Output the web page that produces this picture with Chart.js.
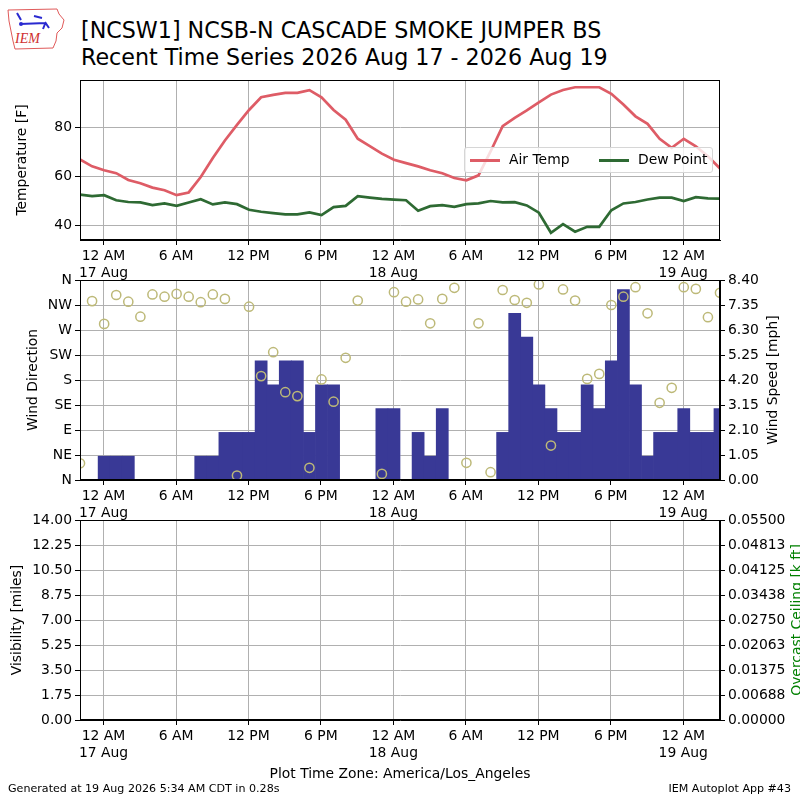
<!DOCTYPE html>
<html>
<head>
<meta charset="utf-8">
<script src="https://cdn.jsdelivr.net/npm/chart.js@4.4.1/dist/chart.umd.min.js"></script>
<style>
  body { margin:0; width:800px; height:800px; overflow:hidden; background:#fff; position:relative;
         font-family:'DejaVu Sans', sans-serif; color:#000; }
  canvas { position:absolute; left:0; }
  .txt { position:absolute; white-space:nowrap; line-height:1; }
  .rot { position:absolute; white-space:nowrap; line-height:1; font-size:13.9px;
         transform:translate(-50%,-50%) rotate(-90deg); }
  #legend { position:absolute; left:464px; top:147px; width:247px; height:24px;
            border:1px solid #d6d6d6; border-radius:3px; background:rgba(255,255,255,0.8); font-size:13.9px; }
  #legend span.ln { position:absolute; top:11px; width:30px; height:3px; }
  #legend span.lb { position:absolute; top:5px; line-height:1; }
</style>
</head>
<body>

<svg style="position:absolute;left:0;top:0" width="70" height="55">
  <path d="M8,10 L57,9 L59,14 L64,20 L62,28 L57,33 L56,41 L53,48 L15,49 L13,41 L11,31 L9,21 Z"
        fill="none" stroke="#e05a5a" stroke-width="1"/>
  <path d="M17,13 L21,20 M20,24 L46,23 M34,16 L42,18 M45,22 L49,28 M45,24 L43,29" stroke="#2a2ad0" stroke-width="2" fill="none"/>
  <circle cx="21" cy="24" r="2" fill="#2a2ad0"/>
  <text x="15" y="43" font-family="Liberation Serif, serif" font-style="italic" font-size="14" fill="#d03030">IEM</text>
</svg>

<div class="txt" style="left:81px;top:18.5px;font-size:22.2px">[NCSW1] NCSB-N CASCADE SMOKE JUMPER BS</div>
<div class="txt" style="left:81px;top:45.5px;font-size:22.2px">Recent Time Series 2026 Aug 17 - 2026 Aug 19</div>

<canvas id="c1" width="800" height="290" style="top:0"></canvas>
<canvas id="c2" width="800" height="260" style="top:260px"></canvas>
<canvas id="c3" width="800" height="300" style="top:500px"></canvas>

<div id="legend"></div>
<div class="rot" style="left:773px;top:380px">Wind Speed [mph]</div>
<div class="rot" style="left:797px;top:620px;color:#008000">Overcast Ceiling [k ft]</div>

<div class="txt" style="left:8px;top:783px;font-size:11.1px">Generated at 19 Aug 2026 5:34 AM CDT in 0.28s</div>
<div class="txt" style="right:9px;top:783px;font-size:11.1px">IEM Autoplot App #43</div>

<script>
// observation times (local, America/Los_Angeles)
const obsTimes = [
  "08-16 22:03","08-16 23:03",
  "08-17 00:03","08-17 01:03","08-17 02:03","08-17 03:03","08-17 04:03","08-17 05:03",
  "08-17 06:03","08-17 07:03","08-17 08:03","08-17 09:03","08-17 10:03","08-17 11:03",
  "08-17 12:03","08-17 13:03","08-17 14:03","08-17 15:03","08-17 16:03","08-17 17:03",
  "08-17 18:03","08-17 19:03","08-17 20:03","08-17 21:03","08-17 22:03","08-17 23:03",
  "08-18 00:03","08-18 01:03","08-18 02:03","08-18 03:03","08-18 04:03","08-18 05:03",
  "08-18 06:03","08-18 07:03","08-18 08:03","08-18 09:03","08-18 10:03","08-18 11:03",
  "08-18 12:03","08-18 13:03","08-18 14:03","08-18 15:03","08-18 16:03","08-18 17:03",
  "08-18 18:03","08-18 19:03","08-18 20:03","08-18 21:03","08-18 22:03","08-18 23:03",
  "08-19 00:03","08-19 01:03","08-19 02:03","08-19 03:03"
];

const airTemp = [67, 64.2,
  62.6, 61.4, 58.6, 57.3, 55.5, 54.4, 52.4, 53.5, 59.8, 67.6, 74.8, 81.2,
  87.3, 92.5, 93.5, 94.3, 94.3, 95.4, 92.5, 87.3, 83.3, 75.5, 72.5, 69.4,
  66.9, 65.5, 64.2, 62.6, 61.4, 59.4, 58.5, 60.5, 70.3, 80.7, 84.1, 87.1,
  90.4, 93.6, 95.5, 96.6, 96.6, 96.6, 93.9, 89.5, 84.7, 81.6, 75.5, 71.8,
  75.5, 72.4, 68.3, 63.3];

const dewPoint = [52.6, 52.0,
  52.4, 50.3, 49.6, 49.4, 48.3, 49.0, 48.0, 49.4, 50.7, 48.6, 49.4, 48.7,
  46.4, 45.6, 45.0, 44.5, 44.5, 45.3, 44.2, 47.5, 48.0, 52.0, 51.4, 50.9,
  50.6, 50.3, 46.0, 47.9, 48.3, 47.6, 48.7, 49.0, 50.0, 49.4, 49.5, 48.2,
  45.2, 37.0, 40.5, 37.4, 39.4, 39.4, 46.2, 49.0, 49.6, 50.6, 51.4, 51.4,
  50.0, 51.6, 51.1, 51.0];

const windDir = [30, 322,
  281, 333, 321, 294, 334, 330, 335, 330, 320, 334, 326, 8,
  312, 187, 230, 158, 151, 22, 181, 141, 220, 323, null, 11,
  338, 321, 325, 282, 326, 346, 31, 282, 14, 342, 324, 319,
  352, 62, 343, 323, 182, 191, 315, 330, 347, 300, 139, 166,
  347, 344, 293, 337];

const windSpeed = [0, 0,
  1, 1, 1, 0, 0, 0, 0, 0, 1, 1, 2, 2,
  2, 5, 4, 5, 5, 2, 4, 4, 0, 0, 0, 3,
  3, 0, 2, 1, 3, 0, 0, 0, 0, 2, 7, 6,
  4, 3, 2, 2, 4, 3, 5, 8, 4, 1, 2, 2,
  3, 2, 2, 3];

const xTickHours = [0, 6, 12, 18, 24, 30, 36, 42, 48];
const dayNames = ["17 Aug", "18 Aug", "19 Aug"];
const tempTicks = [40, 60, 80];
const dirLabels = ["N", "NE", "E", "SE", "S", "SW", "W", "NW", "N"];
const visRange = [0, 14];
const ceilRange = [0, 0.055];

Chart.defaults.font.family = "'DejaVu Sans', sans-serif";
Chart.defaults.font.size = 13.9;
Chart.defaults.color = '#000';

function toHours(s) {
  const [md, hm] = s.split(' ');
  const day = +md.split('-')[1];
  const [hh, mm] = hm.split(':').map(Number);
  return (day - 17) * 24 + hh + mm / 60;
}
const hrs = obsTimes.map(toHours);
const xMin = hrs[0], xMax = hrs[hrs.length - 1];

function xLabel(v) {
  const hh = ((v % 24) + 24) % 24;
  let s;
  if (hh === 0) s = '12 AM';
  else if (hh < 12) s = hh + ' AM';
  else if (hh === 12) s = '12 PM';
  else s = (hh - 12) + ' PM';
  if (hh === 0) return [s, dayNames[Math.round(v / 24)]];
  return s;
}

const gridOpts = { color: '#b0b0b0', tickColor: '#000', tickLength: 5, lineWidth: 1 };

function xScale(h, extra) {
  return Object.assign({
    type: 'linear', min: xMin, max: xMax, offset: false, bounds: 'data',
    afterBuildTicks: a => { a.ticks = xTickHours.map(v => ({ value: v })); },
    afterFit: a => { a.height = h; },
    ticks: { callback: v => xLabel(v), maxRotation: 0, autoSkip: false, padding: 3 },
    grid: Object.assign({ offset: false }, gridOpts),
    border: { color: '#000' }
  }, extra || {});
}

function evenTicks(lo, hi, n) {
  const out = [];
  for (let i = 0; i <= n; i++) out.push({ value: lo + (hi - lo) * i / n });
  return out;
}

// box around every plot area
const frame = {
  id: 'frame',
  afterDraw(chart) {
    const a = chart.chartArea, c = chart.ctx;
    c.save();
    c.strokeStyle = '#000';
    c.lineWidth = 1;
    c.strokeRect(Math.round(a.left) + 0.5, Math.round(a.top) + 0.5,
                 Math.round(a.right - a.left) - 1, Math.round(a.bottom - a.top) - 1);
    c.restore();
  }
};

// ---- temperature panel
const tLo = Math.min(...dewPoint), tHi = Math.max(...airTemp);
const tPad = (tHi - tLo) * 0.05;
const tempSets = [
  { label: 'Air Temp', data: hrs.map((x, i) => ({ x, y: airTemp[i] })), borderColor: '#de5c66' },
  { label: 'Dew Point', data: hrs.map((x, i) => ({ x, y: dewPoint[i] })), borderColor: '#2e6a33' }
];
tempSets.forEach(d => Object.assign(d, { borderWidth: 2.7, pointRadius: 0, tension: 0, clip: 0 }));

new Chart(document.getElementById('c1'), {
  type: 'line',
  data: { datasets: tempSets },
  options: {
    responsive: false, animation: false, events: [],
    layout: { padding: { top: 80, left: 14, right: 80, bottom: 0 } },
    plugins: { legend: { display: false }, tooltip: { enabled: false } },
    scales: {
      x: xScale(50),
      y: {
        type: 'linear', min: tLo - tPad, max: tHi + tPad, bounds: 'data',
        afterBuildTicks: a => { a.ticks = tempTicks.map(v => ({ value: v })); },
        afterFit: a => { a.width = 66; },
        ticks: { padding: 3 },
        grid: gridOpts, border: { color: '#000' },
        title: { display: true, text: 'Temperature [F]', padding: 0 }
      }
    }
  },
  plugins: [frame]
});

// legend for the temperature panel
const leg = document.getElementById('legend');
[[5, 44], [134, 173]].forEach((p, i) => {
  leg.insertAdjacentHTML('beforeend',
    `<span class="ln" style="left:${p[0]}px;background:${tempSets[i].borderColor}"></span>` +
    `<span class="lb" style="left:${p[1]}px">${tempSets[i].label}</span>`);
});

// ---- wind panel
const spdMax = Math.max(...windSpeed) * 1.05;
new Chart(document.getElementById('c2'), {
  type: 'scatter',
  data: {
    datasets: [
      {
        label: 'Wind Direction', order: 0, yAxisID: 'dir', clip: 0,
        data: hrs.map((x, i) => ({ x, y: windDir[i] })).filter(p => p.y !== null),
        pointRadius: 4.6, pointBorderWidth: 1.5,
        pointBackgroundColor: 'rgba(0,0,0,0)', pointBorderColor: '#bdb978'
      },
      {
        type: 'bar', label: 'Wind Speed', order: 1, yAxisID: 'spd', clip: 0,
        data: hrs.map((x, i) => ({ x, y: windSpeed[i] })),
        backgroundColor: '#393996', borderWidth: 0,
        barPercentage: 1, categoryPercentage: 1
      }
    ]
  },
  options: {
    responsive: false, animation: false, events: [],
    layout: { padding: { top: 20, left: 25, right: 0, bottom: 0 } },
    plugins: { legend: { display: false }, tooltip: { enabled: false } },
    scales: {
      x: xScale(40, { z: 1 }),
      dir: {
        type: 'linear', position: 'left', min: 0, max: 360, bounds: 'data', z: 1,
        afterBuildTicks: a => { a.ticks = evenTicks(0, 360, 8); },
        afterFit: a => { a.width = 55; },
        ticks: { padding: 3, callback: v => dirLabels[Math.round(v / 45)] },
        grid: gridOpts, border: { color: '#000' },
        title: { display: true, text: 'Wind Direction', padding: 0 }
      },
      spd: {
        type: 'linear', position: 'right', min: 0, max: spdMax, bounds: 'data',
        afterBuildTicks: a => { a.ticks = evenTicks(0, spdMax, 8); },
        afterFit: a => { a.width = 80; },
        ticks: { padding: 3, callback: v => v.toFixed(2) },
        grid: Object.assign({}, gridOpts, { drawOnChartArea: false }),
        border: { color: '#000' }
      }
    }
  },
  plugins: [frame]
});

// ---- visibility / ceiling panel (no reports)
new Chart(document.getElementById('c3'), {
  type: 'scatter',
  data: {
    datasets: [
      { label: 'Visibility', yAxisID: 'vis', data: [] },
      { label: 'Overcast Ceiling', yAxisID: 'ceil', data: [] }
    ]
  },
  options: {
    responsive: false, animation: false, events: [],
    layout: { padding: { top: 20, left: 9, right: 0, bottom: 17.7 } },
    plugins: { legend: { display: false }, tooltip: { enabled: false } },
    scales: {
      x: xScale(62.3, { title: { display: true, text: 'Plot Time Zone: America/Los_Angeles', padding: 0 } }),
      vis: {
        type: 'linear', position: 'left', min: visRange[0], max: visRange[1], bounds: 'data',
        afterBuildTicks: a => { a.ticks = evenTicks(visRange[0], visRange[1], 8); },
        afterFit: a => { a.width = 71; },
        ticks: { padding: 3, callback: v => v.toFixed(2) },
        grid: gridOpts, border: { color: '#000' },
        title: { display: true, text: 'Visibility [miles]', padding: 0 }
      },
      ceil: {
        type: 'linear', position: 'right', min: ceilRange[0], max: ceilRange[1], bounds: 'data',
        afterBuildTicks: a => { a.ticks = evenTicks(ceilRange[0], ceilRange[1], 8); },
        afterFit: a => { a.width = 80; },
        ticks: { padding: 3, callback: v => (Math.round(v * 1e5 + 1e-6) / 1e5).toFixed(5) },
        grid: Object.assign({}, gridOpts, { drawOnChartArea: false }),
        border: { color: '#000' }
      }
    }
  },
  plugins: [frame]
});
</script>
</body>
</html>
